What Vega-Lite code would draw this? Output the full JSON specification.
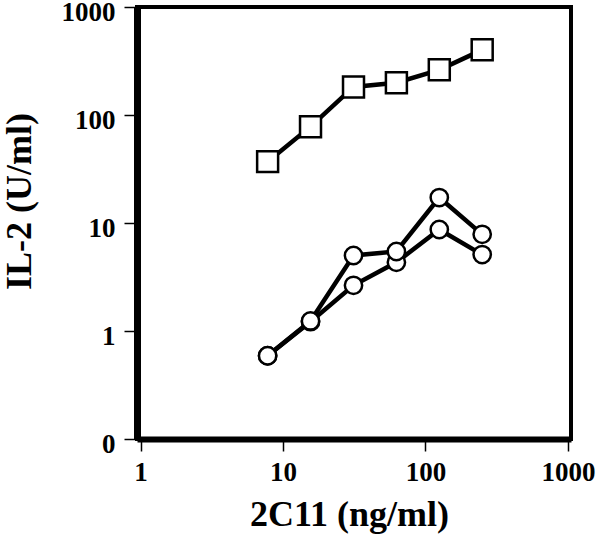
{
  "$schema": "https://vega.github.io/schema/vega-lite/v6.json",
  "autosize": "none",
  "width": 434,
  "height": 432,
  "padding": {"left": 137, "top": 7, "right": 30, "bottom": 105},
  "background": "white",
  "config": {
    "view": {"stroke": "black", "strokeWidth": 4},
    "axis": {
      "grid": false,
      "domainColor": "black",
      "tickColor": "black",
      "labelColor": "black",
      "titleColor": "black",
      "labelFont": "Liberation Serif",
      "titleFont": "Liberation Serif",
      "labelFontWeight": "bold",
      "titleFontWeight": "bold",
      "labelFontSize": 27,
      "titleFontSize": 36,
      "labelFlush": false,
      "labelOverlap": false,
      "tickWidth": 1.5
    }
  },
  "data": {
    "values": [
      {"dose": 7.8, "il2": 37, "series": "A"},
      {"dose": 15.6, "il2": 78, "series": "A"},
      {"dose": 31.25, "il2": 182, "series": "A"},
      {"dose": 62.5, "il2": 199, "series": "A"},
      {"dose": 125, "il2": 262, "series": "A"},
      {"dose": 250, "il2": 401, "series": "A"},
      {"dose": 7.8, "il2": 0.59, "series": "C"},
      {"dose": 15.6, "il2": 1.22, "series": "C"},
      {"dose": 31.25, "il2": 2.65, "series": "C"},
      {"dose": 62.5, "il2": 4.33, "series": "C"},
      {"dose": 125, "il2": 8.7, "series": "C"},
      {"dose": 250, "il2": 5.1, "series": "C"},
      {"dose": 7.8, "il2": 0.59, "series": "B"},
      {"dose": 15.6, "il2": 1.24, "series": "B"},
      {"dose": 31.25, "il2": 5.0, "series": "B"},
      {"dose": 62.5, "il2": 5.45, "series": "B"},
      {"dose": 125, "il2": 17.2, "series": "B"},
      {"dose": 250, "il2": 7.85, "series": "B"}
    ]
  },
  "encoding": {
    "x": {
      "field": "dose",
      "type": "quantitative",
      "scale": {"type": "log", "domain": [0.945, 1050], "nice": false},
      "axis": {
        "values": [1, 10, 100, 1000],
        "labelExpr": "'' + datum.value",
        "domainWidth": 6,
        "tickSize": 12,
        "labelPadding": 8,
        "title": "2C11 (ng/ml)",
        "titleX": 212,
        "titleY": 86,
        "titleBaseline": "alphabetic"
      }
    },
    "y": {
      "field": "il2",
      "type": "quantitative",
      "scale": {"type": "log", "domain": [0.1, 1000], "nice": false},
      "axis": {
        "values": [0.1, 1, 10, 100, 1000],
        "labelExpr": "datum.value < 0.5 ? '0' : '' + datum.value",
        "labelOffset": 5,
        "domainWidth": 7,
        "tickSize": 13,
        "labelPadding": 9,
        "title": "IL-2 (U/ml)",
        "titleX": -107,
        "titleY": 194,
        "titleBaseline": "alphabetic"
      }
    }
  },
  "layer": [
    {
      "mark": {"type": "line", "color": "black", "strokeWidth": 4.5},
      "encoding": {"detail": {"field": "series"}}
    },
    {
      "transform": [{"filter": {"field": "series", "equal": "A"}}],
      "mark": {"type": "point", "shape": "square", "size": 440, "filled": true, "fill": "white", "stroke": "black", "strokeWidth": 2.5, "opacity": 1}
    },
    {
      "transform": [{"filter": {"field": "series", "oneOf": ["C", "B"]}}],
      "mark": {"type": "point", "shape": "circle", "size": 300, "filled": true, "fill": "white", "stroke": "black", "strokeWidth": 2.5, "opacity": 1}
    }
  ]
}
